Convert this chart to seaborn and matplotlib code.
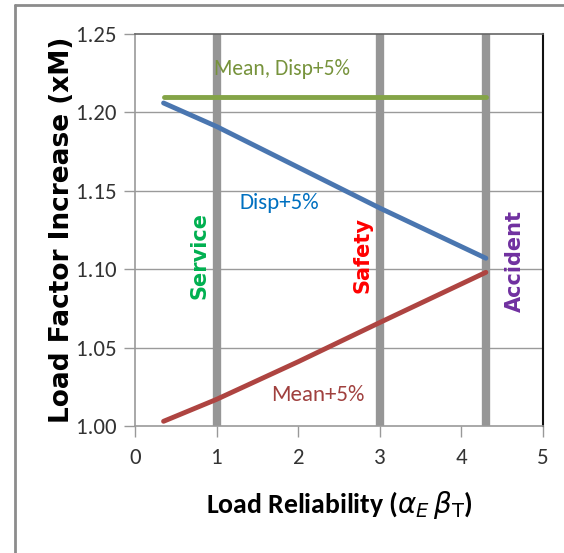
import matplotlib
matplotlib.use("Agg")
import matplotlib.pyplot as plt
from matplotlib.lines import Line2D
from matplotlib import font_manager
import seaborn as sns
import pandas as pd

# Data
x_vals = [0.35, 1.0, 2.0, 3.0, 4.3]
mean_disp5 = [1.210, 1.210, 1.210, 1.210, 1.210]
disp5 = [1.206, 1.191, 1.165, 1.139, 1.107]
mean5 = [1.003, 1.017, 1.041, 1.066, 1.098]
limit_x = [1.0, 3.0, 4.3]
limit_labels = ["Service", "Safety", "Accident"]
x_ticks = [0, 1, 2, 3, 4, 5]
y_ticks = [1.00, 1.05, 1.10, 1.15, 1.20, 1.25]

names = {f.name for f in font_manager.fontManager.ttflist}
main_font = "Lato"
for cand in ["Carlito", "Archivo Narrow", "Barlow Semi Condensed"]:
    if cand in names:
        main_font = cand
        break

sns.set_theme(style="white")
plt.rcParams['font.family'] = [main_font, 'DejaVu Sans']

fig = plt.figure(figsize=(5.64, 5.53), dpi=100)
ax = fig.add_axes([135/564, 1-426/553, (543-135)/564, (426-34)/553])

for yv in y_ticks[1:-1]:
    ax.axhline(yv, color="#9a9a9a", lw=1.0, zorder=0)

for xv in limit_x:
    ax.axvline(xv, color="#969696", lw=6, zorder=1)

df = pd.DataFrame({"x": x_vals * 3,
                   "y": mean_disp5 + disp5 + mean5,
                   "s": ["Mean, Disp+5%"] * 5 + ["Disp+5%"] * 5 + ["Mean+5%"] * 5})
palette = {"Mean, Disp+5%": "#84A447", "Disp+5%": "#4A76B0", "Mean+5%": "#AE4441"}
sns.lineplot(data=df, x="x", y="y", hue="s", palette=palette, lw=3.5,
             legend=False, ax=ax, zorder=3)

ax.set_xlim(0, 5)
ax.set_ylim(1.0, 1.25)
ax.set_xticks(x_ticks)
ax.set_yticks(y_ticks)
ax.set_yticklabels([f"{v:.2f}" for v in y_ticks])
ax.tick_params(axis="both", labelsize=16.5, length=8, width=1,
               direction="out", left=True, bottom=True)
ax.tick_params(axis="x", colors="#999999", labelcolor="#333333", pad=8)
ax.tick_params(axis="y", colors="#999999", labelcolor="#333333", pad=5)

for side in ["left", "bottom"]:
    ax.spines[side].set_color("#9a9a9a")
    ax.spines[side].set_linewidth(1.2)
ax.spines["top"].set_color("#666666")
ax.spines["top"].set_linewidth(1.2)
ax.spines["right"].set_color("#111111")
ax.spines["right"].set_linewidth(1.5)

ax.text(1.80, 1.2275, "Mean, Disp+5%", color="#77933C", fontsize=15.5, ha="center", va="center", zorder=5)
ax.text(1.765, 1.1425, "Disp+5%", color="#0070C0", fontsize=16.5, ha="center", va="center", zorder=5)
ax.text(2.24, 1.0195, "Mean+5%", color="#A0403E", fontsize=16.5, ha="center", va="center", zorder=5)

lab_font = ["DejaVu Sans"]
ax.text(0.79, 1.109, "Service", color="#00B050", fontsize=15, fontweight="bold",
        rotation=90, ha="center", va="center", family=lab_font, zorder=5)
ax.text(2.79, 1.109, "Safety", color="#FF0000", fontsize=15, fontweight="bold",
        rotation=90, ha="center", va="center", family=lab_font, zorder=5)
ax.text(4.66, 1.105, "Accident", color="#7030A0", fontsize=15, fontweight="bold",
        rotation=90, ha="center", va="center", family=lab_font, zorder=5)

ax.set_ylabel("Load Factor Increase (xM)", fontsize=19, fontweight="bold",
              family=["DejaVu Sans"], color="black", labelpad=1)
ax.set_xlabel(r"Load Reliability ($\alpha_E\,\beta_\mathrm{T}$)", fontsize=20,
              fontweight="bold", color="black", labelpad=15)

fig.add_artist(Line2D([15/564, 15/564], [0, 1-5/553], color="#8c8c8c", lw=2,
                      transform=fig.transFigure))
fig.add_artist(Line2D([15/564, 1], [1-5/553, 1-5/553], color="#8c8c8c", lw=2,
                      transform=fig.transFigure))

fig.savefig("out.png", dpi=100)
